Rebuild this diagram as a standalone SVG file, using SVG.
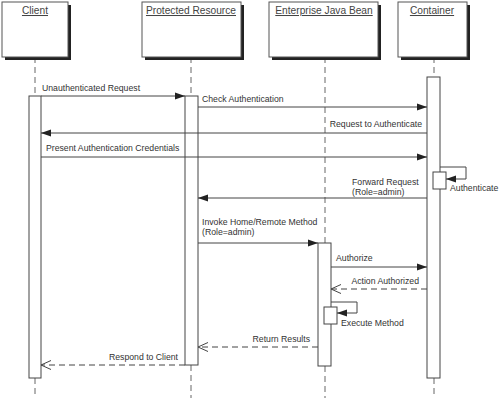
<svg xmlns="http://www.w3.org/2000/svg" width="500" height="400" viewBox="0 0 500 400">
<style>
.box{fill:#fff;stroke:#555;stroke-width:1}
.shadow{fill:#222}
.title{font-family:"Liberation Sans",Arial,sans-serif;font-size:10.2px;fill:#444;text-anchor:middle;text-decoration:underline}
.life{stroke:#666;stroke-width:1;stroke-dasharray:6,4;fill:none}
.act{fill:#fff;stroke:#444;stroke-width:1}
.msg{stroke:#444;stroke-width:1;fill:none}
.ret{stroke:#444;stroke-width:1;fill:none;stroke-dasharray:6,4}
.lbl{font-family:"Liberation Sans",Arial,sans-serif;font-size:8.7px;fill:#333}
.end{text-anchor:end}
</style>
<defs>
<marker id="filled" markerWidth="10" markerHeight="8" refX="10" refY="4" orient="auto" markerUnits="userSpaceOnUse">
<path d="M0,0.5 L10,4 L0,7.5 Z" fill="#222"/>
</marker>
<marker id="open" markerWidth="10" markerHeight="10" refX="10" refY="5" orient="auto" markerUnits="userSpaceOnUse">
<path d="M0,0.5 L10,5 L0,9.5" fill="none" stroke="#444" stroke-width="1"/>
</marker>
</defs>
<rect width="500" height="400" fill="#fff"/>

<g id="lifelines">
<line class="life" x1="35" y1="57" x2="35" y2="96"/>
<line class="life" x1="35" y1="378" x2="35" y2="398"/>
<line class="life" x1="191" y1="57" x2="191" y2="96"/>
<line class="life" x1="191" y1="365" x2="191" y2="398"/>
<line class="life" x1="325" y1="57" x2="325" y2="243"/>
<line class="life" x1="325" y1="366" x2="325" y2="398"/>
<line class="life" x1="434" y1="57" x2="434" y2="77"/>
<line class="life" x1="434" y1="378" x2="434" y2="398"/>
</g>

<g id="client">
<rect class="shadow" x="5" y="5" width="66" height="55"/>
<rect class="box" x="2" y="2" width="66" height="55"/>
<text class="title" x="35" y="14">Client</text>
<rect class="act" x="29" y="96" width="12" height="282"/>
</g>
<g id="protected-resource">
<rect class="shadow" x="145" y="5" width="99" height="55"/>
<rect class="box" x="142" y="2" width="99" height="55"/>
<text class="title" x="191" y="14">Protected Resource</text>
<rect class="act" x="185" y="96" width="13" height="269"/>
</g>
<g id="ejb">
<rect class="shadow" x="272" y="5" width="109" height="55"/>
<rect class="box" x="269" y="2" width="109" height="55"/>
<text class="title" x="324" y="14">Enterprise Java Bean</text>
<rect class="act" x="318" y="243" width="13" height="123"/>
<rect class="act" x="324" y="307" width="13" height="17"/>
</g>
<g id="container">
<rect class="shadow" x="401" y="5" width="69" height="55"/>
<rect class="box" x="398" y="2" width="69" height="55"/>
<text class="title" x="432" y="14">Container</text>
<rect class="act" x="427" y="77" width="13" height="301"/>
<rect class="act" x="433" y="172" width="13" height="17"/>
</g>

<g id="connectors">
<line class="msg" x1="41" y1="96" x2="185" y2="96" marker-end="url(#filled)"/>
<text class="lbl" x="42" y="91">Unauthenticated Request</text>

<line class="msg" x1="198" y1="107" x2="427" y2="107" marker-end="url(#filled)"/>
<text class="lbl" x="202" y="102">Check Authentication</text>

<line class="msg" x1="427" y1="133" x2="41" y2="133" marker-end="url(#filled)"/>
<text class="lbl end" x="422" y="127">Request to Authenticate</text>

<line class="msg" x1="41" y1="157" x2="427" y2="157" marker-end="url(#filled)"/>
<text class="lbl" x="46" y="151">Present Authentication Credentials</text>

<polyline class="msg" points="440,167 466,167 466,179 446,179" marker-end="url(#filled)"/>
<text class="lbl" x="450" y="191">Authenticate</text>

<line class="msg" x1="427" y1="198" x2="198" y2="198" marker-end="url(#filled)"/>
<text class="lbl" x="352" y="185">Forward Request</text>
<text class="lbl" x="352" y="195">(Role=admin)</text>

<line class="msg" x1="198" y1="243" x2="318" y2="243" marker-end="url(#filled)"/>
<text class="lbl" x="202" y="225">Invoke Home/Remote Method</text>
<text class="lbl" x="202" y="235">(Role=admin)</text>

<line class="msg" x1="331" y1="267" x2="427" y2="267" marker-end="url(#filled)"/>
<text class="lbl" x="336" y="261">Authorize</text>

<line class="ret" x1="427" y1="289" x2="331" y2="289" marker-end="url(#open)"/>
<text class="lbl end" x="419" y="284">Action Authorized</text>

<polyline class="msg" points="331,302 357,302 357,313 337,313" marker-end="url(#filled)"/>
<text class="lbl" x="341" y="326">Execute Method</text>

<line class="ret" x1="318" y1="347" x2="198" y2="347" marker-end="url(#open)"/>
<text class="lbl end" x="310" y="342">Return Results</text>

<line class="ret" x1="185" y1="365" x2="41" y2="365" marker-end="url(#open)"/>
<text class="lbl end" x="178" y="360">Respond to Client</text>
</g>
</svg>
